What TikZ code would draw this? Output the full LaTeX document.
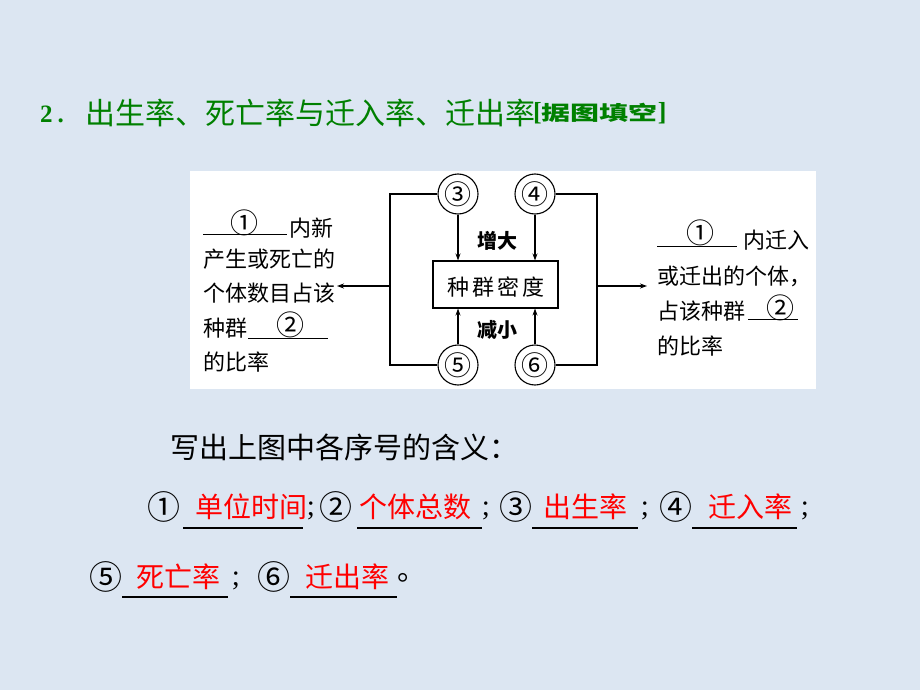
\documentclass[tikz,border=0pt]{standalone}
\usepackage{fontspec}
\newfontfamily\cjk{Noto Sans CJK SC}
\newfontfamily\serif{Liberation Serif}
\usetikzlibrary{arrows.meta}
\definecolor{bg}{HTML}{DCE6F2}
\definecolor{ttl}{HTML}{008000}
\definecolor{ansred}{HTML}{FF0000}
\tikzset{
  txt/.style={inner sep=0, font=\cjk\fontsize{22}{26}\selectfont, anchor=west},
  num/.style={inner sep=0, font=\cjk\fontsize{28}{32}\selectfont},
  circ/.style={circle, draw, line width=1.1pt, minimum size=40pt, inner sep=0, font=\cjk\fontsize{27}{30}\selectfont, fill=white},
  ln/.style={line width=1.1pt},
  arr/.style={line width=1.1pt, -{Stealth[length=7pt,width=5pt]}},
  ul/.style={line width=1pt},
  bul/.style={line width=2pt},
  big/.style={inner sep=0, font=\cjk\fontsize{29}{34}\selectfont},
  cnum/.style={inner sep=0, font=\cjk\fontsize{33}{37}\selectfont},
  answer/.style={inner sep=0, text=ansred, font=\cjk\fontsize{28}{32}\selectfont},
  semi/.style={inner sep=0, font=\serif\fontsize{29}{34}\selectfont},
  lbl/.style={inner sep=0, font=\cjk\bfseries\fontsize{20}{24}\selectfont}
}
\begin{document}
\begin{tikzpicture}[x=1pt,y=-1pt]
\fill[bg] (0,0) rectangle (920,690);
\useasboundingbox (0,0) rectangle (920,690);
% title
\node[inner sep=0, anchor=west, text=ttl, font=\serif\bfseries\fontsize{25}{30}\selectfont] (t0) at (40,114) {2\hspace{5pt}.};
\node[inner sep=0, anchor=west, text=ttl, font=\cjk\fontsize{30}{34}\selectfont] (t1) at (85,113) {出生率、死亡率与迁入率、迁出率};
\node[inner sep=0, anchor=west, text=ttl] (t2) at (533,113) {{\serif\bfseries\fontsize{26}{30}\selectfont[}\scalebox{1.45}[1]{\cjk\bfseries\fontsize{20}{24}\selectfont 据图填空}{\serif\bfseries\fontsize{26}{30}\selectfont ]}};
% diagram panel
\fill[white] (190,171) rectangle (816,389);
\node[draw, ln, minimum width=125pt, minimum height=47pt, inner sep=0] (box) at (495.5,284.5) {};
\node[inner sep=0, font=\cjk\fontsize{22}{26}\selectfont] (boxt) at (496,287) {种\hspace{3pt}群\hspace{3pt}密\hspace{3pt}度};
\node[circ] (c3) at (458,194) {③};
\node[circ] (c4) at (535,194) {④};
\node[circ] (c5) at (458,365) {⑤};
\node[circ] (c6) at (535,365) {⑥};
\node[lbl] (inc) at (497,241) {增大};
\node[lbl] (dec) at (497,330) {减小};
\draw[arr] (c3.south) -- (c3.south |- box.north);
\draw[arr] (c4.south) -- (c4.south |- box.north);
\draw[arr] (c5.north) -- (c5.north |- box.south);
\draw[arr] (c6.north) -- (c6.north |- box.south);
\coordinate (ltop) at (390,194);
\coordinate (lbot) at (390,365);
\coordinate (lmid) at (390,286);
\coordinate (larr) at (337,286);
\coordinate (rtop) at (597,194);
\coordinate (rbot) at (597,365);
\coordinate (rmid) at (597,286);
\coordinate (rarr) at (647,286);
\draw[ln] (c3.west) -- (ltop) -- (lbot) -- (c5.west);
\draw[ln] (c4.east) -- (rtop) -- (rbot) -- (c6.east);
\draw[arr] (lmid) -- (larr);
\draw[arr] (rmid) -- (rarr);
% left text
\draw[ul] (203,234) -- (287,234);
\node[num] (l1n) at (244,223) {①};
\node[txt] (l1) at (289,228) {内新};
\node[txt] (l2) at (203,259) {产生或死亡的};
\node[txt] (l3) at (203,293) {个体数目占该};
\node[txt] (l4) at (203,328) {种群};
\draw[ul] (248,338) -- (328,338);
\node[num] (l4n) at (290,325) {②};
\node[txt] (l5) at (203,362) {的比率};
% right text
\draw[ul] (657,246) -- (737,246);
\node[num] (r1n) at (700,233) {①};
\node[txt] (r1) at (743,240) {内迁入};
\node[txt] (r2) at (657,276) {或迁出的个体，};
\node[txt] (r3) at (657,311) {占该种群};
\draw[ul] (748,319) -- (798,319);
\node[num] (r3n) at (780,308) {②};
\node[txt] (r4) at (657,346) {的比率};
% question
\node[big, anchor=west] (q) at (170,447) {写出上图中各序号的含义：};
% answers row 1
\node[cnum] (n1) at (164,507) {①};
\node[answer] (a1) at (251,507) {单位时间};
\draw[bul] (183,528) -- (303,528);
\node[semi] (s1) at (311,511) {;};
\node[cnum] (n2) at (336,507) {②};
\node[answer] (a2) at (415,507) {个体总数};
\draw[bul] (357,528) -- (482,528);
\node[semi] (s2) at (486,511) {;};
\node[cnum] (n3) at (516,507) {③};
\node[answer] (a3) at (585,507) {出生率};
\draw[bul] (532,528) -- (638,528);
\node[semi] (s3) at (645,511) {;};
\node[cnum] (n4) at (676,507) {④};
\node[answer] (a4) at (750,507) {迁入率};
\draw[bul] (692,528) -- (797,528);
\node[semi] (s4) at (805,511) {;};
% answers row 2
\node[cnum] (n5) at (106,577) {⑤};
\node[answer] (a5) at (178,577) {死亡率};
\draw[bul] (122,597) -- (228,597);
\node[semi] (s5) at (236,581) {;};
\node[cnum] (n6) at (274,577) {⑥};
\node[answer] (a6) at (347,577) {迁出率};
\draw[bul] (290,597) -- (397,597);
\node[big, anchor=west] (dot) at (397,578) {。};
\end{tikzpicture}
\end{document}
